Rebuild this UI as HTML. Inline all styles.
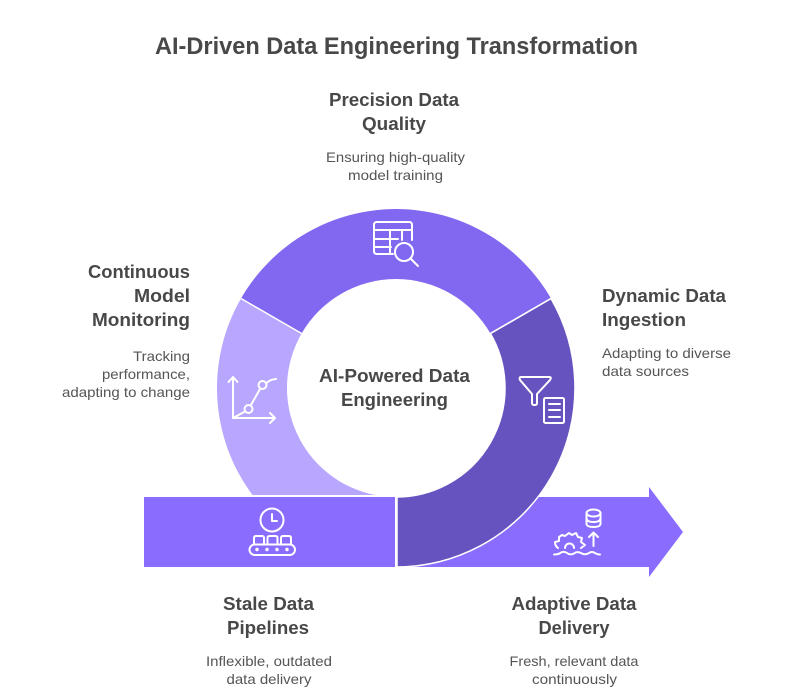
<!DOCTYPE html>
<html>
<head>
<meta charset="utf-8">
<style>
html,body{margin:0;padding:0;background:#fff;width:792px;height:700px;overflow:hidden}
svg{display:block}
text{font-family:"Liberation Sans",Arial,sans-serif;fill:#484848}
.h{font-size:18px;font-weight:bold}
.d{font-size:14px;fill:#555}
.i{fill:none;stroke:#fff;stroke-width:2;stroke-linecap:round;stroke-linejoin:round}
</style>
</head>
<body>
<svg width="792" height="700" viewBox="0 0 792 700" xmlns="http://www.w3.org/2000/svg">
<rect width="792" height="700" fill="#fff"/>
<text x="396.500" y="54" font-size="24" font-weight="bold" text-anchor="middle" textLength="483" lengthAdjust="spacingAndGlyphs">AI-Driven Data Engineering Transformation</text>

<!-- light segment -->
<path d="M241 298.500 A179 179 0 0 0 252.500 495 H375 A109 109 0 0 1 301.600 333.500 Z" fill="#B8A6FF"/>
<!-- top segment -->
<path d="M241 298.500 A179 179 0 0 1 551 298.500 L490.400 333.500 A109 109 0 0 0 301.600 333.500 Z" fill="#8267F0"/>
<!-- bar -->
<rect x="144" y="497" width="251" height="70" fill="#8A6CFF"/>
<!-- arrow -->
<path d="M397 497 H649 V487 L683 532 L649 577 V567 H397 Z" fill="#8A6CFF"/>
<!-- dark segment -->
<path d="M551 298.500 A179 179 0 0 1 397 567 V497 A109 109 0 0 0 490.400 333.500 Z" fill="#6753BF" stroke="#fff" stroke-width="1.500" stroke-linejoin="miter"/>
<path d="M241 298.500 L301.600 333.500 M551 298.500 L490.400 333.500" stroke="#fff" stroke-width="1.500"/>
<path d="M551.500 296 A179 179 0 0 1 577 388 L577 300 Z" fill="none"/>

<!-- table icon -->
<g class="i">
<path d="M393 254 H377 Q374 254 374 251 V225 Q374 222 377 222 H409 Q412 222 412 225 V240"/>
<path d="M374 230 H412 M374 239 H398 M374 247 H391 M390 230 V254 M402 230 V240"/>
<circle cx="404" cy="252" r="9"/>
<path d="M411 259 L418 266"/>
</g>

<!-- funnel icon -->
<g class="i">
<path d="M521 377 H549 Q552 377 550 380 L537 394 V403 Q537 405 534.500 405 Q532 405 532 403 V394 L520 380 Q519 377 521 377 Z"/>
<rect x="544" y="398" width="20" height="25" rx="1.500"/>
<path d="M549 404 H560 M549 410 H560 M549 417 H560"/>
</g>

<!-- chart icon -->
<g class="i">
<path d="M233 418 V377 M228.500 382 L233 377 L237.500 382"/>
<path d="M233 418 H275 M270 413 L275 418 L270 423"/>
<path d="M233 418 L244 412"/>
<circle cx="248.500" cy="409" r="4"/>
<path d="M251 405 L260 389"/>
<circle cx="262.500" cy="385" r="4"/>
<path d="M266.500 383 Q270 379.500 276 379"/>
</g>

<!-- clock conveyor icon -->
<g class="i">
<circle cx="272" cy="520" r="11.500"/>
<path d="M272 514 V521 H277"/>
<path d="M254 544 V538 Q254 536 256 536 H262 Q264 536 264 538 V544"/>
<path d="M267.500 544 V538 Q267.500 536 269.500 536 H275.500 Q277.500 536 277.500 538 V544"/>
<path d="M281 544 V538 Q281 536 283 536 H289 Q291 536 291 538 V544"/>
<rect x="249.500" y="544.500" width="45.500" height="10.500" rx="5.200"/>
</g>
<g fill="#fff"><circle cx="257" cy="549.500" r="1.700"/><circle cx="267" cy="549.500" r="1.700"/><circle cx="277" cy="549.500" r="1.700"/><circle cx="287" cy="549.500" r="1.700"/></g>

<!-- delivery icon -->
<g class="i">
<ellipse cx="593.500" cy="513" rx="7" ry="3.500"/>
<path d="M586.500 513 V524 Q587 527 593.500 527 Q600 527 600.500 524 V513 M586.500 518.500 Q587 522 593.500 522 Q600 522 600.500 518.500"/>
<path d="M593.500 546 V532.500 M589 537 L593.500 532.500 L598 537"/>
<path d="M554 554.500 Q559 554.500 561 552.500 Q564 551 567 553 Q570 555.500 574 553.500 Q577 551 581 553 Q585 555.500 589 553 Q592 551 595 553 Q597 554.500 600 554.500"/>
<path d="M558 548 Q555 546 555 542 L559 541 L559 537 L562 535 L565 536 L569 533 L572 535 L576 533 L578 537 L582 538 L581 542 L585 545 L581 548"/>
<path d="M565 548 A4.500 4.500 0 0 1 574 548"/>
</g>

<!-- centre -->
<text class="h" x="394.500" y="382" text-anchor="middle" textLength="151" lengthAdjust="spacingAndGlyphs">AI-Powered Data</text>
<text class="h" x="394.500" y="406" text-anchor="middle" textLength="107" lengthAdjust="spacingAndGlyphs">Engineering</text>

<!-- top -->
<text class="h" x="394" y="106" text-anchor="middle" textLength="130" lengthAdjust="spacingAndGlyphs">Precision Data</text>
<text class="h" x="394" y="130" text-anchor="middle" textLength="64" lengthAdjust="spacingAndGlyphs">Quality</text>
<text class="d" x="395.500" y="162" text-anchor="middle" textLength="139" lengthAdjust="spacingAndGlyphs">Ensuring high-quality</text>
<text class="d" x="395.500" y="180" text-anchor="middle" textLength="95" lengthAdjust="spacingAndGlyphs">model training</text>

<!-- left -->
<text class="h" x="190" y="278" text-anchor="end" textLength="102" lengthAdjust="spacingAndGlyphs">Continuous</text>
<text class="h" x="190" y="302" text-anchor="end" textLength="56" lengthAdjust="spacingAndGlyphs">Model</text>
<text class="h" x="190" y="326" text-anchor="end" textLength="98" lengthAdjust="spacingAndGlyphs">Monitoring</text>
<text class="d" x="190" y="361" text-anchor="end" textLength="57" lengthAdjust="spacingAndGlyphs">Tracking</text>
<text class="d" x="190" y="379" text-anchor="end" textLength="88" lengthAdjust="spacingAndGlyphs">performance,</text>
<text class="d" x="190" y="397" text-anchor="end" textLength="128" lengthAdjust="spacingAndGlyphs">adapting to change</text>

<!-- right -->
<text class="h" x="602" y="302" textLength="124" lengthAdjust="spacingAndGlyphs">Dynamic Data</text>
<text class="h" x="602" y="326" textLength="84" lengthAdjust="spacingAndGlyphs">Ingestion</text>
<text class="d" x="602" y="358" textLength="129" lengthAdjust="spacingAndGlyphs">Adapting to diverse</text>
<text class="d" x="602" y="376" textLength="87" lengthAdjust="spacingAndGlyphs">data sources</text>

<!-- bottom left -->
<text class="h" x="268.500" y="610" text-anchor="middle" textLength="91" lengthAdjust="spacingAndGlyphs">Stale Data</text>
<text class="h" x="268" y="634" text-anchor="middle" textLength="82" lengthAdjust="spacingAndGlyphs">Pipelines</text>
<text class="d" x="269" y="666" text-anchor="middle" textLength="126" lengthAdjust="spacingAndGlyphs">Inflexible, outdated</text>
<text class="d" x="269" y="684" text-anchor="middle" textLength="85" lengthAdjust="spacingAndGlyphs">data delivery</text>

<!-- bottom right -->
<text class="h" x="574" y="610" text-anchor="middle" textLength="125" lengthAdjust="spacingAndGlyphs">Adaptive Data</text>
<text class="h" x="574" y="634" text-anchor="middle" textLength="71" lengthAdjust="spacingAndGlyphs">Delivery</text>
<text class="d" x="574" y="666" text-anchor="middle" textLength="129" lengthAdjust="spacingAndGlyphs">Fresh, relevant data</text>
<text class="d" x="574.500" y="684" text-anchor="middle" textLength="85" lengthAdjust="spacingAndGlyphs">continuously</text>
</svg>
</body>
</html>
